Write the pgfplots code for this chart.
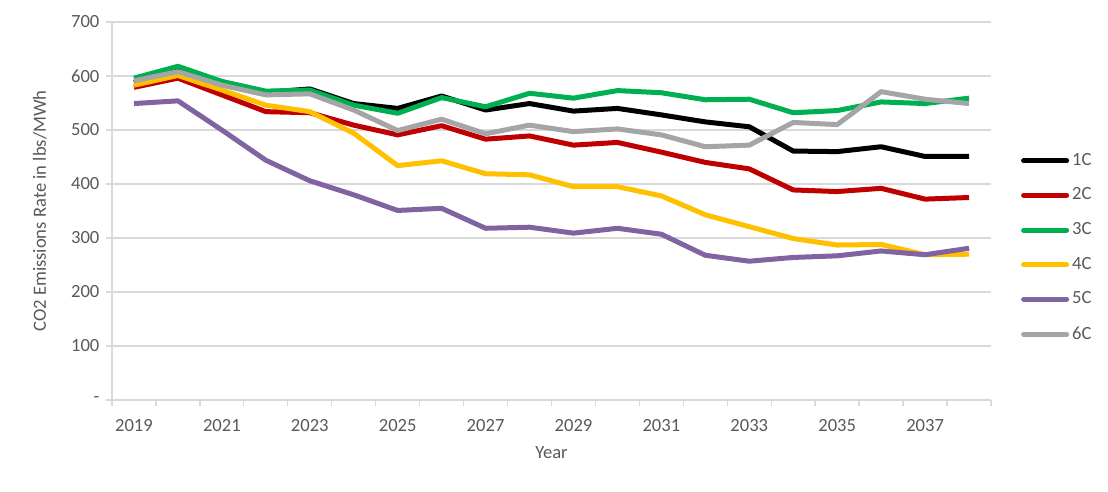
\documentclass[border=0pt]{standalone}
\usepackage{pgfplots}
\pgfplotsset{compat=1.18}
\usepackage{fontspec}
\setmainfont{Carlito}
\definecolor{txtgray}{HTML}{595959}
\definecolor{gridgray}{HTML}{D9D9D9}
\definecolor{c1}{HTML}{000000}
\definecolor{c2}{HTML}{C00000}
\definecolor{c3}{HTML}{00B050}
\definecolor{c4}{HTML}{FFC000}
\definecolor{c5}{HTML}{8064A2}
\definecolor{c6}{HTML}{A5A5A5}

\begin{document}
\fontsize{9.3}{11}\selectfont
\begin{tikzpicture}
  \useasboundingbox (-56pt,-46pt) rectangle (498pt,200pt);
  \begin{axis}[
    scale only axis,
    width=439.5pt,
    height=189pt,
    xmin=2018.5, xmax=2038.5,
    ymin=0, ymax=700,
    xtick={2019,2021,...,2037},
    minor xtick={2018.5,2019.5,...,2038.5},
    ytick={0,100,...,700},
    yticklabels={-,100,200,300,400,500,600,700},
    xticklabel={\pgfmathprintnumber[1000 sep=]{\tick}},
    xticklabel style={yshift=-3.2pt},
    major x tick style={draw=none},
    tick align=outside,
    minor tick length=3pt,
    major tick length=3pt,
    tick style={gridgray, line width=0.65pt},
    axis x line*=bottom,
    axis y line*=left,
    axis line style={gridgray, line width=0.65pt},
    ymajorgrids=true,
    grid style={gridgray, line width=0.65pt},
    every tick label/.append style={font=\fontsize{9.3}{11}\selectfont, text=txtgray},
    /pgf/number format/assume math mode=true,
    xlabel={Year},
    ylabel={CO2 Emissions Rate in lbs/MWh},
    label style={font=\fontsize{9.3}{11}\selectfont, text=txtgray},
    xlabel style={at={(axis description cs:0.5,-0.14)}, anchor=center},
    ylabel style={at={(axis description cs:-0.082,0.5)}, anchor=center},
    legend style={draw=none, fill=none, at={(1.027,0.675)}, anchor=north west,
      font=\fontsize{9.3}{11}\selectfont, text=txtgray, row sep=5.9pt,
      /tikz/every node/.append style={inner xsep=1.5pt}},
    legend cell align=left,
    legend image code/.code={\draw[#1, line cap=round] (0pt,0pt) -- (21.5pt,0pt);},
    every axis plot/.append style={line width=2.5pt, line join=round},
  ]
  \addplot[c1] coordinates {
    (2019,588) (2020,610) (2021,585) (2022,570) (2023,576) (2024,549) (2025,540)
    (2026,563) (2027,537) (2028,549) (2029,535) (2030,540) (2031,528) (2032,515)
    (2033,506) (2034,461) (2035,460) (2036,469) (2037,451) (2038,451)};
  \addlegendentry{1C}
  \addplot[c2] coordinates {
    (2019,579) (2020,596) (2021,565) (2022,534) (2023,532) (2024,509) (2025,491)
    (2026,508) (2027,483) (2028,489) (2029,472) (2030,477) (2031,459) (2032,440)
    (2033,428) (2034,389) (2035,386) (2036,392) (2037,372) (2038,375)};
  \addlegendentry{2C}
  \addplot[c3] coordinates {
    (2019,596) (2020,618) (2021,590) (2022,572) (2023,574) (2024,546) (2025,531)
    (2026,560) (2027,543) (2028,568) (2029,559) (2030,573) (2031,569) (2032,556)
    (2033,557) (2034,532) (2035,536) (2036,552) (2037,549) (2038,559)};
  \addlegendentry{3C}
  \addplot[c4] coordinates {
    (2019,583) (2020,601) (2021,574) (2022,546) (2023,534) (2024,494) (2025,434)
    (2026,443) (2027,419) (2028,417) (2029,395) (2030,395) (2031,378) (2032,343)
    (2033,321) (2034,299) (2035,287) (2036,288) (2037,269) (2038,270)};
  \addlegendentry{4C}
  \addplot[c5] coordinates {
    (2019,549) (2020,554) (2021,500) (2022,444) (2023,406) (2024,380) (2025,351)
    (2026,355) (2027,318) (2028,320) (2029,309) (2030,318) (2031,307) (2032,268)
    (2033,257) (2034,264) (2035,267) (2036,276) (2037,269) (2038,281)};
  \addlegendentry{5C}
  \addplot[c6] coordinates {
    (2019,591) (2020,608) (2021,583) (2022,565) (2023,567) (2024,537) (2025,499)
    (2026,520) (2027,493) (2028,509) (2029,497) (2030,502) (2031,491) (2032,469)
    (2033,472) (2034,514) (2035,510) (2036,571) (2037,557) (2038,549)};
  \addlegendentry{6C}
  \end{axis}
\end{tikzpicture}
\end{document}
